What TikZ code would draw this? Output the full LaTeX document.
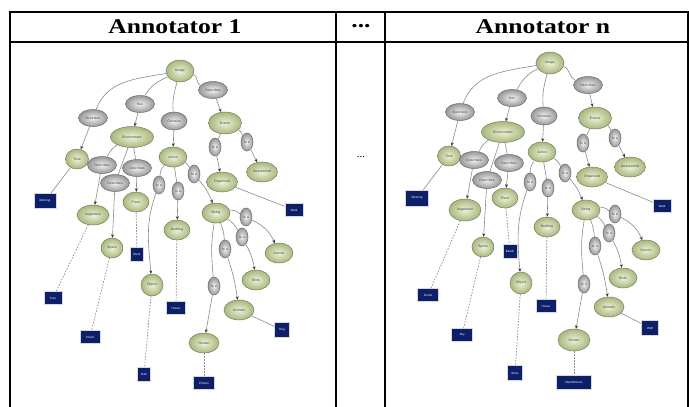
\documentclass[tikz,border=0pt]{standalone}
\usepackage{fontspec}
\setmainfont{Liberation Serif}
\newfontfamily\headfont[FakeStretch=1.22]{Liberation Serif}
\newfontfamily\graphfont{Liberation Sans}
\usetikzlibrary{shapes.geometric,arrows.meta}
\definecolor{conceptin}{HTML}{EEF2D8}
\definecolor{conceptout}{HTML}{A9B77E}
\definecolor{conceptline}{HTML}{767F5C}
\definecolor{relin}{HTML}{F2F2F2}
\definecolor{relout}{HTML}{979797}
\definecolor{relline}{HTML}{6A6A6A}
\definecolor{wordfill}{HTML}{0C1F68}
\definecolor{edgegray}{HTML}{8A8A8A}

\begin{document}
\begin{tikzpicture}[x=1pt,y=1pt,
  concept/.style={ellipse,draw=conceptline,line width=0.5pt,inner color=conceptin,outer color=conceptout,
    minimum width=28pt,minimum height=20pt,inner sep=0pt,font=\graphfont\fontsize{3.4}{3.6}\selectfont,text=black!75},
  relation/.style={ellipse,draw=relline,line width=0.5pt,inner color=relin,outer color=relout,
    minimum width=29pt,minimum height=17pt,inner sep=0pt,font=\graphfont\fontsize{3.4}{3.6}\selectfont,text=black!75},
  isa/.style={relation,minimum width=12pt,minimum height=18pt},
  word/.style={rectangle,fill=wordfill,draw=black!15,line width=0.6pt,minimum width=18pt,minimum height=13pt,
    inner sep=0pt,font=\graphfont\fontsize{3}{3.5}\selectfont,text=white},
  link/.style={draw=edgegray,line width=0.6pt},
  arrowline/.style={link,-{Stealth[length=3.5pt,width=3pt,black!80]}},
  dotline/.style={draw=edgegray,line width=0.7pt,dash pattern=on 1.5pt off 1.5pt},
  head/.style={font=\headfont\bfseries\fontsize{21}{21}\selectfont}]

\useasboundingbox (0,0) rectangle (689,-407);

% table
\draw[line width=1.3pt] (10,-407) -- (10,-12) -- (688,-12) -- (688,-407);
\draw[line width=1.3pt] (10,-42) -- (688,-42);
\draw[line width=1.3pt] (336,-12) -- (336,-407);
\draw[line width=1.3pt] (385,-12) -- (385,-407);
\node[head](h1) at (175,-27){Annotator 1};
\node[head](h2) at (361,-26){...};
\node[head](h3) at (543,-27){Annotator n};
\node[font=\fontsize{11}{11}\selectfont](dots) at (361,-157){...};

% annotator 1
\node[concept,minimum width=28pt,minimum height=22pt](img1) at (180,-71){Image};
\node[relation](dsc1) at (213,-90){Describes};
\node[relation](has1) at (140,-104){Has};
\node[relation](ill1) at (93,-118){Illustrates};
\node[relation,minimum width=26pt,minimum height=18pt](con1) at (174,-121){Contains};
\node[concept,minimum width=33pt,minimum height=22pt](evt1) at (225,-123){Events};
\node[concept,minimum width=43pt,minimum height=21pt](env1) at (132,-137){Environment};
\node[concept,minimum width=23pt,minimum height=20pt](tim1) at (77,-159){Time};
\node[relation](ds1a) at (102,-165){Describes};
\node[relation](ds1b) at (137,-168){Describes};
\node[relation](ds1c) at (115,-183){Describes};
\node[concept](act1) at (173,-157){Action};
\node[isa](isa1a) at (215,-147){Is a};
\node[isa](isa1b) at (247,-142){Is a};
\node[concept,minimum width=31pt](org1) at (222,-182){Organized};
\node[concept,minimum width=31pt](unx1) at (262,-172){Unexpected};
\node[isa](isa1c) at (159,-185){Is a};
\node[isa](isa1d) at (178,-191){Is a};
\node[isa](isa1e) at (194,-174){Is a};
\node[word,minimum width=22pt,minimum height=15pt](mor1) at (45,-201){Morning};
\node[concept,minimum width=32pt](veg1) at (93,-215){Vegetation};
\node[concept,minimum width=26pt](plc1) at (136,-202){Place};
\node[word](wlk1) at (294,-210){Walk};
\node[concept](bei1) at (216,-213){Being};
\node[isa](isa1f) at (246,-217){Is a};
\node[isa](isa1g) at (242,-237){Is a};
\node[isa](isa1h) at (225,-249){Is a};
\node[concept,minimum width=26pt](bld1) at (177,-230){Building};
\node[concept](ins1) at (279,-253){Insects};
\node[concept,minimum width=22pt](spc1) at (112,-248){Space};
\node[word,minimum width=13pt,minimum height=14pt](bok1) at (137,-254){Book};
\node[concept](brd1) at (256,-280){Birds};
\node[concept,minimum width=22pt,minimum height=22pt](obj1) at (152,-285){Object};
\node[isa](isa1i) at (214,-286){Is a};
\node[word](tre1) at (53,-298){Tree};
\node[word,minimum width=19pt](hse1) at (176,-308){House};
\node[concept,minimum width=30pt](ani1) at (239,-310){Animals};
\node[word,minimum width=15pt,minimum height=15pt](dog1) at (282,-330){Dog};
\node[word,minimum width=20pt](cld1) at (90,-337){Cloud};
\node[concept,minimum width=30pt](hum1) at (204,-343){Human};
\node[word,minimum width=13pt,minimum height=14pt](bal1) at (144,-374){Ball};
\node[word,minimum width=21pt](per1) at (204,-383){Person};

\path (img1) edge[link,out=190,in=70] (ill1)
  (img1) edge[link,out=205,in=60] (has1)
  (img1) edge[link,out=255,in=95] (con1)
  (img1) edge[link,out=-15,in=160] (dsc1)
  (dsc1) edge[arrowline] (evt1)
  (ill1) edge[arrowline] (tim1)
  (has1) edge[arrowline] (env1)
  (con1) edge[arrowline] (act1)
  (env1) edge[link,bend right=15] (ds1a)
  (env1) edge[link] (ds1b)
  (env1) edge[link] (ds1c)
  (ds1a) edge[arrowline] (veg1)
  (ds1b) edge[arrowline] (plc1)
  (ds1c) edge[arrowline] (spc1)
  (tim1) edge[link] (mor1)
  (veg1) edge[dotline] (tre1)
  (spc1) edge[dotline] (cld1)
  (plc1) edge[dotline] (bok1)
  (evt1) edge[link] (isa1a)
  (evt1) edge[link,bend left=15] (isa1b)
  (isa1a) edge[arrowline] (org1)
  (isa1b) edge[arrowline] (unx1)
  (org1) edge[link] (wlk1)
  (act1) edge[link,bend right=20] (isa1c)
  (act1) edge[link] (isa1d)
  (act1) edge[link,bend left=15] (isa1e)
  (isa1c) edge[arrowline,out=250,in=95] (obj1)
  (isa1d) edge[arrowline] (bld1)
  (isa1e) edge[arrowline,bend left=10] (bei1)
  (bld1) edge[dotline] (hse1)
  (obj1) edge[dotline] (bal1)
  (bei1) edge[link,bend left=20] (isa1f)
  (bei1) edge[link,bend left=15] (isa1g)
  (bei1) edge[link,bend left=10] (isa1h)
  (bei1) edge[link,out=260,in=95] (isa1i)
  (isa1f) edge[arrowline,bend left=20] (ins1)
  (isa1g) edge[arrowline,bend left=10] (brd1)
  (isa1h) edge[arrowline,bend left=5] (ani1)
  (isa1i) edge[arrowline] (hum1)
  (ani1) edge[link] (dog1)
  (hum1) edge[dotline] (per1);

% annotator n
\node[concept,minimum width=28pt,minimum height=22pt](img2) at (550,-63){Image};
\node[relation](dsc2) at (588,-85){Describes};
\node[relation](has2) at (512,-98){Has};
\node[relation](ill2) at (460,-112){Illustrates};
\node[relation,minimum width=26pt,minimum height=18pt](con2) at (544,-116){Contains};
\node[concept,minimum width=33pt,minimum height=22pt](evt2) at (595,-118){Events};
\node[concept,minimum width=43pt,minimum height=21pt](env2) at (503,-132){Environment};
\node[concept,minimum width=23pt,minimum height=20pt](tim2) at (449,-156){Time};
\node[relation](ds2a) at (474,-160){Describes};
\node[relation](ds2b) at (509,-163){Describes};
\node[relation](ds2c) at (487,-180){Describes};
\node[concept](act2) at (542,-152){Action};
\node[isa](isa2a) at (583,-143){Is a};
\node[isa](isa2b) at (615,-138){Is a};
\node[concept,minimum width=31pt](org2) at (592,-177){Organized};
\node[concept,minimum width=31pt](unx2) at (630,-167){Unexpected};
\node[isa](isa2c) at (530,-182){Is a};
\node[isa](isa2d) at (548,-188){Is a};
\node[isa](isa2e) at (565,-173){Is a};
\node[word,minimum width=23pt,minimum height=16pt](mor2) at (417,-198){Morning};
\node[concept,minimum width=32pt,minimum height=22pt](veg2) at (465,-210){Vegetation};
\node[concept,minimum width=26pt](plc2) at (505,-198){Place};
\node[word](wlk2) at (662,-206){Walk};
\node[concept](bei2) at (586,-210){Being};
\node[isa](isa2f) at (615,-214){Is a};
\node[isa](isa2g) at (609,-233){Is a};
\node[isa](isa2h) at (595,-246){Is a};
\node[concept,minimum width=26pt](bld2) at (547,-227){Building};
\node[concept](ins2) at (646,-250){Insects};
\node[concept,minimum width=22pt](spc2) at (483,-247){Space};
\node[word,minimum width=14pt,minimum height=14pt](bch2) at (510,-251){Beach};
\node[concept](brd2) at (623,-278){Birds};
\node[concept,minimum width=22pt,minimum height=22pt](obj2) at (521,-283){Object};
\node[isa](isa2i) at (584,-284){Is a};
\node[word,minimum width=21pt](for2) at (428,-295){Forest};
\node[word,minimum width=20pt](hse2) at (546,-306){House};
\node[concept,minimum width=30pt](ani2) at (609,-307){Animals};
\node[word,minimum width=17pt,minimum height=15pt](wlf2) at (650,-328){Wolf};
\node[word,minimum width=21pt](sky2) at (462,-335){Sky};
\node[concept,minimum width=32pt,minimum height=22pt](hum2) at (574,-340){Human};
\node[word,minimum width=15pt,minimum height=15pt](sho2) at (515,-373){Shoe};
\node[word,minimum width=35pt,minimum height=14pt](mwm2) at (574,-382){Man/Woman};

\path (img2) edge[link,out=190,in=70] (ill2)
  (img2) edge[link,out=205,in=60] (has2)
  (img2) edge[link,out=255,in=95] (con2)
  (img2) edge[link,out=-15,in=160] (dsc2)
  (dsc2) edge[arrowline] (evt2)
  (ill2) edge[arrowline] (tim2)
  (has2) edge[arrowline] (env2)
  (con2) edge[arrowline] (act2)
  (env2) edge[link,bend right=15] (ds2a)
  (env2) edge[link] (ds2b)
  (env2) edge[link] (ds2c)
  (ds2a) edge[arrowline] (veg2)
  (ds2b) edge[arrowline] (plc2)
  (ds2c) edge[arrowline] (spc2)
  (tim2) edge[link] (mor2)
  (veg2) edge[dotline] (for2)
  (spc2) edge[dotline] (sky2)
  (plc2) edge[dotline] (bch2)
  (evt2) edge[link] (isa2a)
  (evt2) edge[link,bend left=15] (isa2b)
  (isa2a) edge[arrowline] (org2)
  (isa2b) edge[arrowline] (unx2)
  (org2) edge[link] (wlk2)
  (act2) edge[link,bend right=20] (isa2c)
  (act2) edge[link] (isa2d)
  (act2) edge[link,bend left=15] (isa2e)
  (isa2c) edge[arrowline,out=250,in=95] (obj2)
  (isa2d) edge[arrowline] (bld2)
  (isa2e) edge[arrowline,bend left=10] (bei2)
  (bld2) edge[dotline] (hse2)
  (obj2) edge[dotline] (sho2)
  (bei2) edge[link,bend left=20] (isa2f)
  (bei2) edge[link,bend left=15] (isa2g)
  (bei2) edge[link,bend left=10] (isa2h)
  (bei2) edge[link,out=260,in=95] (isa2i)
  (isa2f) edge[arrowline,bend left=20] (ins2)
  (isa2g) edge[arrowline,bend left=10] (brd2)
  (isa2h) edge[arrowline,bend left=5] (ani2)
  (isa2i) edge[arrowline] (hum2)
  (ani2) edge[link] (wlf2)
  (hum2) edge[dotline] (mwm2);

\end{tikzpicture}
\end{document}
